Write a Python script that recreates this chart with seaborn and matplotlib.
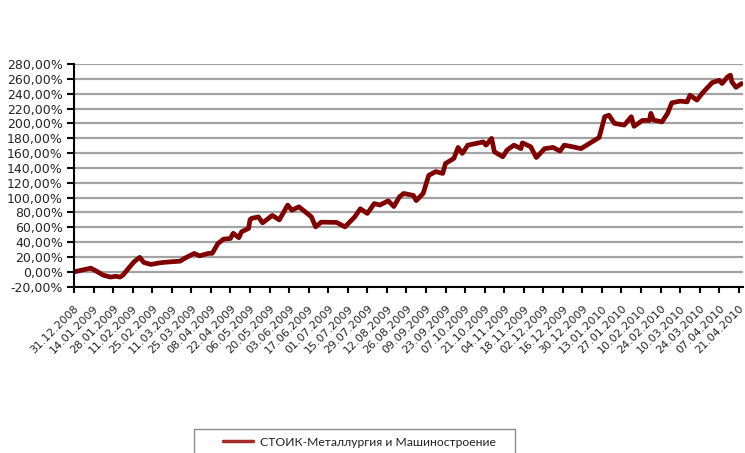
import matplotlib
matplotlib.use("Agg")
import matplotlib.pyplot as plt
from matplotlib.ticker import FuncFormatter, MultipleLocator
from matplotlib.patches import Rectangle
import pandas as pd
import seaborn as sns

series_name = "СТОИК-Металлургия и Машиностроение"

dates = [
    "31.12.2008", "12.01.2009", "14.01.2009", "16.01.2009", "21.01.2009", "26.01.2009",
    "30.01.2009", "02.02.2009", "04.02.2009", "09.02.2009", "12.02.2009", "16.02.2009",
    "19.02.2009", "24.02.2009", "02.03.2009", "05.03.2009", "10.03.2009", "17.03.2009",
    "20.03.2009", "27.03.2009", "31.03.2009", "06.04.2009", "09.04.2009", "13.04.2009",
    "17.04.2009", "22.04.2009", "24.04.2009", "28.04.2009", "30.04.2009", "05.05.2009",
    "06.05.2009", "07.05.2009", "12.05.2009", "15.05.2009", "22.05.2009", "27.05.2009",
    "02.06.2009", "05.06.2009", "10.06.2009", "16.06.2009", "19.06.2009", "22.06.2009",
    "26.06.2009", "07.07.2009", "13.07.2009", "20.07.2009", "24.07.2009", "29.07.2009",
    "03.08.2009", "07.08.2009", "13.08.2009", "17.08.2009", "21.08.2009", "24.08.2009",
    "31.08.2009", "02.09.2009", "07.09.2009", "11.09.2009", "16.09.2009", "21.09.2009",
    "23.09.2009", "29.09.2009", "02.10.2009", "05.10.2009", "09.10.2009", "15.10.2009",
    "20.10.2009", "22.10.2009", "26.10.2009", "28.10.2009", "03.11.2009", "06.11.2009",
    "11.11.2009", "16.11.2009", "17.11.2009", "23.11.2009", "27.11.2009", "03.12.2009",
    "09.12.2009", "14.12.2009", "17.12.2009", "23.12.2009", "29.12.2009", "11.01.2010",
    "15.01.2010", "18.01.2010", "22.01.2010", "25.01.2010", "29.01.2010", "03.02.2010",
    "05.02.2010", "11.02.2010", "16.02.2010", "17.02.2010", "19.02.2010", "25.02.2010",
    "01.03.2010", "04.03.2010", "10.03.2010", "15.03.2010", "17.03.2010", "22.03.2010",
    "26.03.2010", "02.04.2010", "07.04.2010", "09.04.2010", "13.04.2010", "15.04.2010",
    "16.04.2010", "19.04.2010", "23.04.2010",
]

values = [
    0, 5, 3, 1, -4.5, -7,
    -6, -7, -4.5, 7, 13.5, 19.5,
    12.7, 10, 12, 12.7, 13.5, 14.4,
    18, 24.8, 21.6, 24.8, 25, 38,
    44, 45, 52, 46, 54, 58.5,
    70, 72, 74, 66, 76, 70,
    90, 83, 87.6, 78.7, 74, 60.6,
    67, 66.6, 60.6, 74, 85, 78.7,
    92, 90, 95.7, 88, 101, 105.6,
    103, 96, 105.6, 130, 135, 132.6,
    146, 152.8, 167.6, 159.6, 170.7, 173,
    175, 170.7, 179.8, 161.7, 155, 164,
    170.7, 166, 173.7, 168.5, 154, 166,
    167.6, 162.7, 170.7, 168.5, 166, 181,
    209, 211, 200, 199, 197.7, 209,
    196, 204, 204, 213.5, 204.5, 202,
    213.5, 227.7, 230, 229, 238, 231.4,
    241, 255, 258, 253.7, 262.8, 265,
    256, 248.6, 253.7,
]

tick_labels = [
    "31.12.2008", "14.01.2009", "28.01.2009", "11.02.2009", "25.02.2009", "11.03.2009",
    "25.03.2009", "08.04.2009", "22.04.2009", "06.05.2009", "20.05.2009", "03.06.2009",
    "17.06.2009", "01.07.2009", "15.07.2009", "29.07.2009", "12.08.2009", "26.08.2009",
    "09.09.2009", "23.09.2009", "07.10.2009", "21.10.2009", "04.11.2009", "18.11.2009",
    "02.12.2009", "16.12.2009", "30.12.2009", "13.01.2010", "27.01.2010", "10.02.2010",
    "24.02.2010", "10.03.2010", "24.03.2010", "07.04.2010", "21.04.2010",
]

df = pd.DataFrame({"date": pd.to_datetime(dates, format="%d.%m.%Y"), "value": values})
tick_pos = pd.to_datetime(tick_labels, format="%d.%m.%Y")

sns.set_style("white")
plt.rcParams["font.family"] = ["DejaVu Sans"]

fig = plt.figure(figsize=(7.45, 4.53), dpi=100)
ax = fig.add_axes([74 / 745, 1 - 286.7 / 453, 669 / 745, 222.7 / 453])

sns.lineplot(data=df, x="date", y="value", color="#800000", linewidth=3.4,
             label=series_name, ax=ax)

ax.set_ylim(-20, 280)
ax.yaxis.set_major_locator(MultipleLocator(20))
ax.yaxis.set_major_formatter(FuncFormatter(lambda v, p: f"{v:.2f}".replace(".", ",") + "%"))
ax.set_xlim(pd.Timestamp("2008-12-31"), pd.Timestamp("2010-04-24"))
ax.set_xticks(tick_pos)
ax.set_xticklabels(tick_labels, rotation=45, ha="right", rotation_mode="anchor")
ax.set_xlabel("")
ax.set_ylabel("")

ax.yaxis.grid(True, color="#a3a3a3", linewidth=1.6)
ax.set_axisbelow(True)
for s in ["top", "right"]:
    ax.spines[s].set_visible(False)
for s in ["left", "bottom"]:
    ax.spines[s].set_color("black")
    ax.spines[s].set_linewidth(1.5)
ax.tick_params(axis="y", direction="out", length=5, width=1.5, color="black",
               labelsize=9, pad=3, left=True)
ax.tick_params(axis="x", direction="out", length=4, width=1.5, color="black",
               labelsize=8, pad=8, bottom=True)

# legend, its frame runs off the bottom edge
leg = ax.legend(loc="upper left", bbox_to_anchor=(213.5 / 745, 1 - 427 / 453),
                bbox_transform=fig.transFigure, frameon=False, handlelength=2.5,
                handletextpad=0.55, borderpad=0.3,
                prop={"family": "Lato", "size": 8.7})
for h in leg.get_lines():
    h.set_color("#a52a2a")
    h.set_linewidth(2.5)
for t in leg.get_texts():
    t.set_color("#222222")
fig.patches.append(Rectangle((194 / 745, -0.05), 321 / 745, 0.05 + 24 / 453,
                             transform=fig.transFigure, fill=False,
                             edgecolor="#8c8c8c", linewidth=1.0))

fig.savefig("out.png", dpi=100)
